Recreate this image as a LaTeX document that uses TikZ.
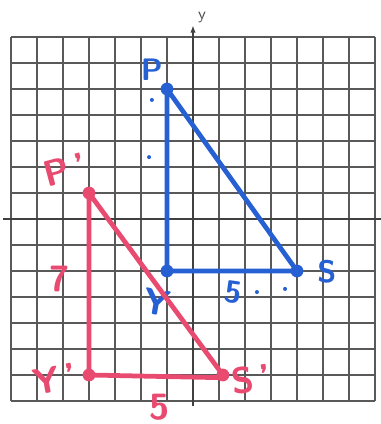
\documentclass[tikz,border=0pt]{standalone}
\usepackage{xcolor}
\usepackage{tikz}
\usetikzlibrary{arrows.meta,positioning}

\definecolor{penblue}{RGB}{38,96,210}
\definecolor{penred}{RGB}{232,74,112}

\begin{document}
\begin{tikzpicture}[
    x=0.5cm, y=0.5cm,
    >=Latex,
    gridline/.style={draw=black!65, line width=0.7pt},
    axisline/.style={draw=black!75, line width=1.1pt},
    vertex/.style={circle, inner sep=0pt, minimum size=7pt},
    speck/.style={circle, inner sep=0pt, minimum size=2.2pt},
    side/.style={line width=2.6pt, line join=round, line cap=round},
    lbl/.style={font=\sffamily\bfseries\fontsize{17}{17}\selectfont, inner sep=0pt},
    biglbl/.style={font=\sffamily\bfseries\fontsize{20}{20}\selectfont, inner sep=0pt}
]
\useasboundingbox (-7.423,-7.885) rectangle (7.231,8.423);

% grid and axes
\draw[gridline, step=0.5cm] (-7,-7) grid (7,7);
\draw[axisline] (-7.3,0) -- (7.3,0);
\draw[axisline, -{Latex[length=4pt,width=3pt]}] (0,-7.2) -- (0,7.45);
\node[font=\sffamily\small, text=black!70, inner sep=0pt] (ylab) at (0.35,7.75) {y};

% original triangle
\node[vertex, fill=penblue] (P) at (-1,5) {};
\node[vertex, fill=penblue] (Y) at (-1,-2) {};
\node[vertex, fill=penblue] (S) at (4,-2) {};
\draw[side, penblue] (P.center) -- (Y.center) -- (S.center) -- cycle;

\node[lbl, text=penblue] (Plab) at (-1.58,5.73) {P};
\node[biglbl, text=penblue, rotate=-10] (Ylab) at (-1.38,-3.19) {Y};
\node[lbl, text=penblue] (Slab) at (5.15,-2.04) {S};
\node[lbl, text=penblue, rotate=-8] (fiveA) at (1.54,-2.81) {5};
\node[speck, fill=penblue] (dotA) at (-1.58,4.58) {};
\node[speck, fill=penblue] (dotB) at (-1.69,2.38) {};
\node[speck, fill=penblue] (dotC) at (2.46,-2.81) {};
\node[speck, fill=penblue] (dotD) at (3.54,-2.69) {};

% image triangle
\node[vertex, fill=penred] (Pp) at (-4,1) {};
\node[vertex, fill=penred] (Yp) at (-4,-6) {};
\node[vertex, fill=penred] (Sp) at (1.15,-6) {};
\draw[side, penred] (Pp.center) -- (Yp.center) -- ([yshift=-1.5pt]Sp.center) -- (Sp.center) -- cycle;

\node[biglbl, text=penred, rotate=15] (Pplab) at (-4.92,1.88) {P\,'};
\node[biglbl, text=penred] (seven) at (-5.12,-2.31) {7};
\node[biglbl, text=penred, rotate=10] (Yplab) at (-5.31,-6.15) {Y\,'};
\node[biglbl, text=penred] (fiveB) at (-1.27,-7.25) {5};
\node[biglbl, text=penred, rotate=8] (Splab) at (2.25,-6.15) {S\,'};
\end{tikzpicture}
\end{document}
